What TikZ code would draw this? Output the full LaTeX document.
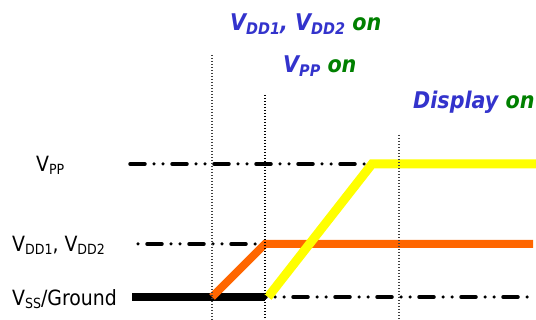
\documentclass[tikz,border=0pt]{standalone}
\usepackage{fontspec}
\setmainfont{DejaVu Sans Condensed}
\definecolor{lblblue}{RGB}{51,51,204}
\definecolor{lblgreen}{RGB}{0,128,0}
\definecolor{vorange}{RGB}{255,102,0}
\definecolor{vyellow}{RGB}{255,255,0}
\tikzset{
  ddot/.style={line width=3.5pt, line cap=round, dash pattern=on 15pt off 9pt on 0pt off 9pt on 0pt off 9pt},
  vgrid/.style={line width=1.3pt, dash pattern=on 1.3pt off 1.7pt, black!75},
  vgridb/.style={line width=2.2pt, dash pattern=on 1.5pt off 1.5pt, black},
  rail/.style={line width=8.5pt},
  lefttxt/.style={anchor=west, inner sep=0pt, font=\fontsize{21}{21}\selectfont},
  toptxt/.style={anchor=west, inner sep=0pt, font=\fontsize{23}{23}\selectfont\bfseries\itshape},
}
\newcommand{\lsub}[1]{\raisebox{-3pt}{\fontsize{14}{14}\selectfont #1}}
\newcommand{\tsub}[1]{\raisebox{-4pt}{\fontsize{16}{16}\selectfont #1}}
\begin{document}
\begin{tikzpicture}[x=1pt,y=-1pt]
\useasboundingbox (0,0) rectangle (536,320);
% coordinates
\coordinate (ppL) at (130,164);
\coordinate (ppK) at (372,164);
\coordinate (ppR) at (536,164);
\coordinate (ddL) at (138,244);
\coordinate (ddK) at (265,244);
\coordinate (ddR) at (533,244);
\coordinate (ssL) at (132,297);
\coordinate (ssA) at (212,297);
\coordinate (ssK) at (265,297);
\coordinate (ssY) at (268,297);
\coordinate (ssR) at (527,297);
\coordinate (v1t) at (212,55);
\coordinate (v1b) at (212,320);
\coordinate (v2t) at (265,95);
\coordinate (v2b) at (265,320);
\coordinate (v3t) at (399,135);
\coordinate (v3b) at (399,320);
% labels
\node[lefttxt] (lpp) at (36,165) {V\lsub{PP}};
\node[lefttxt] (ldd) at (12,245) {V\lsub{DD1}, V\lsub{DD2}};
\node[lefttxt] (lss) at (12,299) {V\lsub{SS}/Ground};
\node[toptxt] (t1) at (230,24) {\color{lblblue}V\tsub{DD1}, V\tsub{DD2} \color{lblgreen}on};
\node[toptxt] (t2) at (283,66) {\color{lblblue}V\tsub{PP} \color{lblgreen}on};
\node[toptxt] (t3) at (413,102) {\color{lblblue}Display \color{lblgreen}on};
% dash-dot-dot reference lines
\draw[ddot] (ppL) -- (ppK);
\draw[ddot, dash phase=-9pt] (ddL) -- (ddK);
\draw[ddot, dash phase=14pt] (ssK) -- (ssR);
% rails
\draw[rail, black] (ssL) -- (ssK);
\draw[rail, vorange, line width=8pt] (ssA) -- (ddK) -- (ddR);
\draw[rail, vyellow, line width=9pt] (ssY) -- (ppK) -- (ppR);
% vertical markers
\draw[vgrid] (v1t) -- (v1b);
\draw[vgridb] (v2t) -- (v2b);
\draw[vgrid] (v3t) -- (v3b);
\end{tikzpicture}
\end{document}
